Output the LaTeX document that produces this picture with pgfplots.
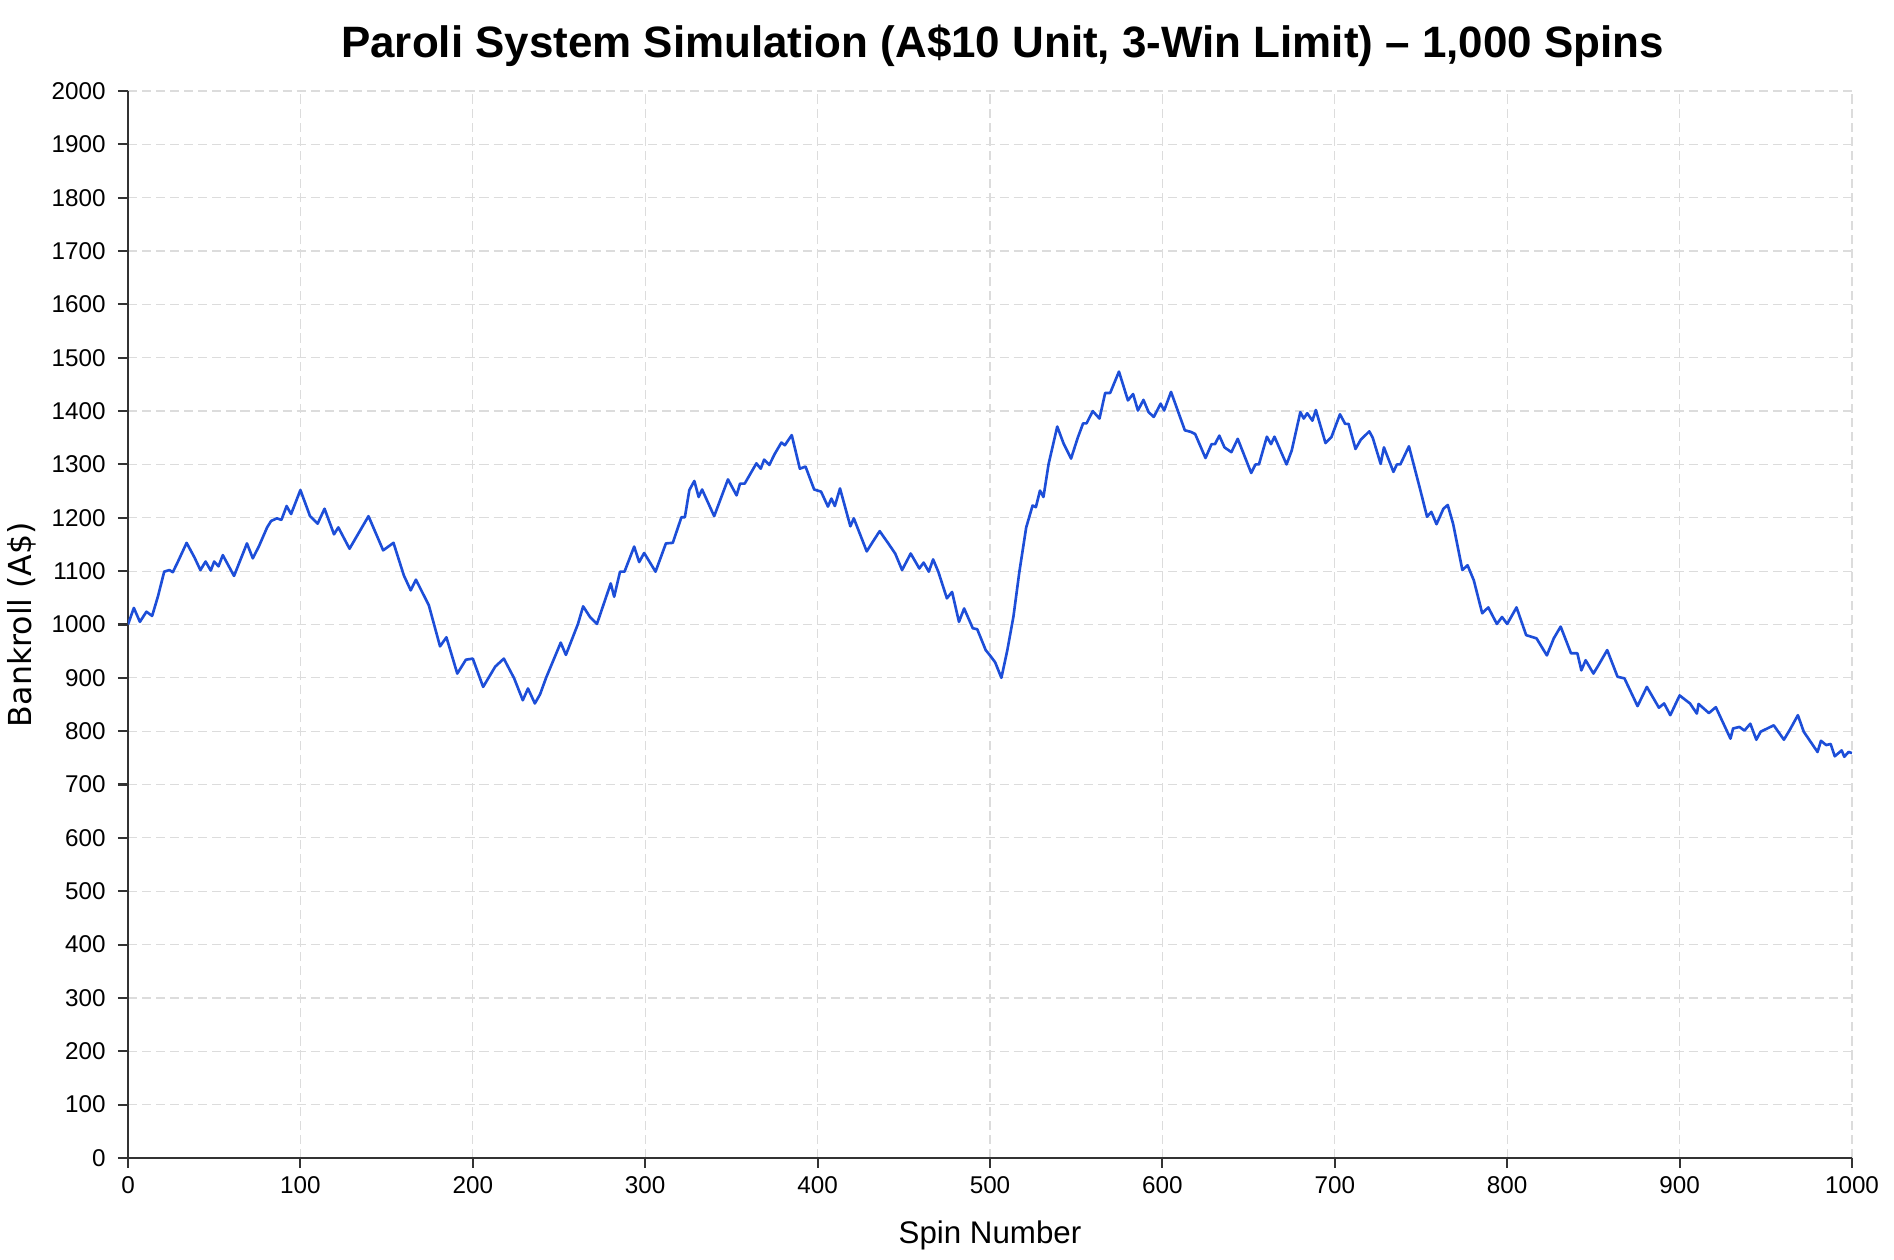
\documentclass[border=0pt]{standalone}
\usepackage{fontspec}
\setmainfont{Liberation Sans}
\newfontfamily\dejavu{DejaVu Sans}
\usepackage{pgfplots}
\pgfplotsset{compat=1.18}
\definecolor{lineblue}{HTML}{1D4ED8}
\definecolor{gridgray}{HTML}{DCDCDC}
\definecolor{axisgray}{HTML}{333333}
\begin{document}
\begin{tikzpicture}
\begin{axis}[
  scale only axis, width=17.24cm, height=10.67cm,
  xmin=0, xmax=1000, ymin=0, ymax=2000,
  xtick={0,100,...,1000}, ytick={0,100,...,2000},
  axis x line*=bottom, axis y line*=left,
  axis line style={-, draw=axisgray, line width=0.6pt},
  tick align=outside, major tick length=0.1cm,
  tick style={draw=axisgray, line width=0.6pt},
  grid=major,
  major grid style={draw=gridgray, line width=0.35pt, dash pattern=on 2.6pt off 1.4pt},
  ticklabel style={font=\fontsize{6.9}{8}\selectfont, text=black},
  xticklabel style={yshift=0.035cm},
  /pgf/number format/assume math mode=true,
  /pgf/number format/1000 sep={},
  every axis title shift=0pt,
  title={\bfseries Paroli System Simulation (A\$10 Unit, 3-Win Limit) – 1,000 Spins},
  title style={at={(axis description cs:0.5073,1.042)}, anchor=center, font=\fontsize{12.5}{14}\selectfont},
  xlabel={Spin Number},
  xlabel style={at={(axis description cs:0.5,-0.0725)}, anchor=center, font=\fontsize{8.9}{10}\selectfont},
  ylabel={Bankroll (A\$)},
  ylabel style={at={(axis description cs:-0.0615,0.5)}, anchor=center, font=\dejavu\fontsize{9}{10}\selectfont},
]
\addplot[color=lineblue, line width=0.75pt, line join=round] coordinates {
(0,1000) (3.4,1031) (6.9,1005) (10.7,1024) (14,1016) (17.4,1053) (21,1099) (24,1102) (26,1098) (29,1118)
(34,1153) (38.5,1126) (42,1102) (45,1118) (48,1101) (50,1118) (52.5,1109) (55,1130) (61.5,1091) (69,1152)
(72.4,1124) (76,1147) (80.7,1182) (83,1194) (86.4,1199) (89,1196) (92,1222) (94.6,1207) (100,1252) (105.6,1203)
(110,1189) (114,1217) (119.5,1169) (122,1182) (128.5,1142) (133,1167) (139.5,1203) (148,1139) (154,1153) (160,1092)
(164,1064) (167,1084) (174.5,1036) (181,959) (184.7,976) (191,908) (196,934) (200,936) (206,883) (213,921)
(218,936) (224,899) (229,858) (232,880) (236,852) (239,869) (242.5,900) (251,966) (254,943) (261,1001)
(264,1034) (268,1014) (272,1001) (280,1077) (282,1052) (285.4,1099) (288,1099) (293.6,1146) (296.5,1117) (299.4,1134)
(306,1099) (312,1152) (316,1153) (321,1201) (323,1201) (325.6,1252) (328.5,1269) (331,1239) (333,1253) (340,1203)
(348,1272) (353,1242) (355,1264) (357.7,1264) (364.5,1302) (367,1292) (369,1309) (372,1299) (375,1319) (379,1341)
(381,1336) (385,1355) (389.7,1292) (393,1296) (398,1253) (402,1249) (406,1221) (408,1236) (410,1222) (413,1255)
(419,1184) (421,1199) (428.5,1137) (432,1155) (436,1175) (441,1152) (445,1133) (449,1102) (454,1133) (459,1105)
(461.5,1116) (464.5,1099) (467,1122) (470,1099) (475,1049) (478,1061) (482,1005) (485,1030) (490,993) (492.6,991)
(497.5,952) (500,942) (503,929) (506.6,900) (510,951) (513.6,1015) (517,1098) (521,1182) (524.7,1223) (526.6,1220)
(529,1251) (531,1239) (534,1301) (539,1371) (542.7,1339) (547,1311) (551,1351) (554,1377) (556,1377) (559.6,1400)
(563.5,1386) (566.8,1434) (569.7,1434) (574.8,1474) (580,1420) (583,1432) (585.8,1401) (589,1421) (592,1398) (595,1389)
(599,1414) (601,1401) (605,1436) (613,1364) (616.5,1361) (619,1357) (625,1312) (628.5,1338) (630.5,1338) (633,1354)
(636,1332) (640,1323) (643.7,1348) (651.5,1284) (654,1300) (656,1300) (660.6,1352) (663,1338) (665,1352) (672,1300)
(675,1326) (680,1398) (682,1386) (684,1396) (687,1382) (689,1402) (694.6,1340) (698,1351) (703,1394) (706,1376)
(708,1376) (712,1329) (715,1346) (720,1362) (722,1350) (726.6,1301) (728.5,1332) (734,1286) (736,1300) (738,1300)
(743,1334) (749.6,1252) (753.5,1202) (756,1211) (759,1188) (763,1217) (765.5,1224) (768.6,1189) (774,1102) (777,1111)
(780.6,1083) (785.5,1021) (789,1032) (794,1001) (797,1014) (800,1001) (805.4,1032) (811,980) (817,974) (823,942)
(827,974) (831,996) (837,946) (840.7,946) (843,914) (845.5,933) (850,908) (853,924) (858,952) (864,902)
(868,899) (875.6,847) (881,883) (888,844) (891,852) (894.6,830) (900,867) (906,852) (910,833) (911,851)
(917,834) (921,845) (929.5,786) (931,805) (934.7,808) (937.6,801) (941,814) (944.5,784) (947,799) (954.6,811)
(960.5,784) (964,803) (968.6,830) (972,799) (980,761) (982,782) (985,774) (987.6,776) (990,753) (994,764)
(995.5,752) (998,761) (1000,759)
};
\end{axis}
\pgfresetboundingbox
\path ([xshift=-1.28cm,yshift=-1.02cm]current axis.south west) rectangle ([xshift=0.42cm,yshift=0.91cm]current axis.north east);
\end{tikzpicture}
\end{document}
